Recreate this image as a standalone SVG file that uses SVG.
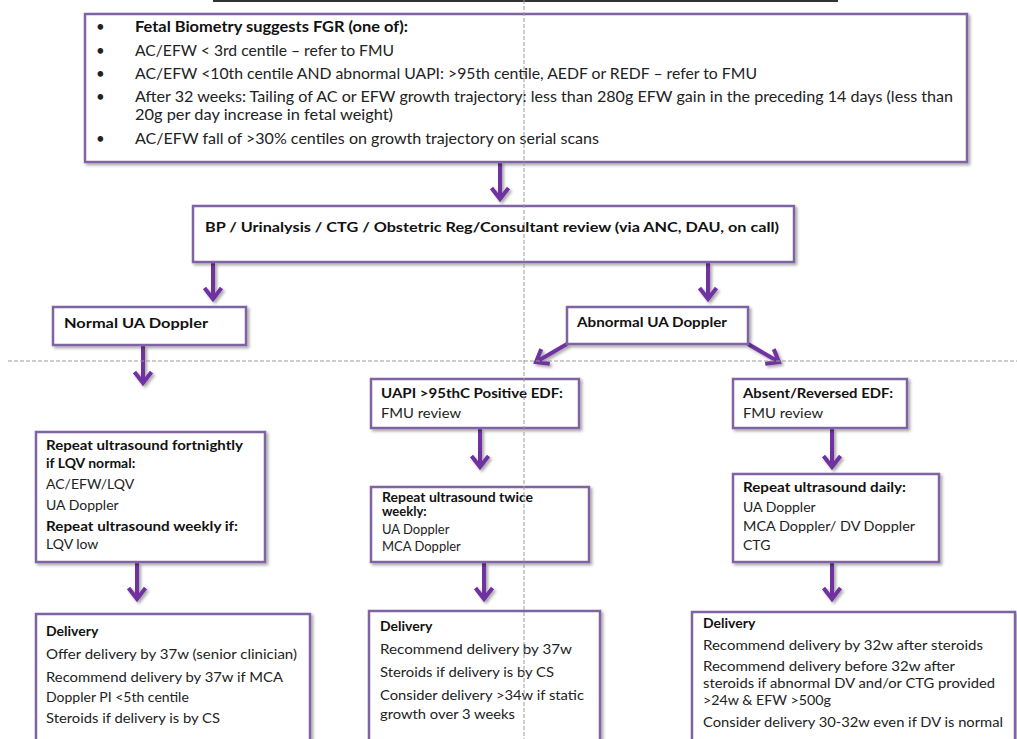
<svg xmlns="http://www.w3.org/2000/svg" width="1017" height="739" viewBox="0 0 1017 739">
<style>
.box{fill:#fff;stroke:#8064A2;stroke-width:2.5;filter:url(#sh)}
.t{font-family:Lato,"Liberation Sans",sans-serif;font-size:14px;fill:#222}
.b{font-weight:bold;fill:#111}
.s{font-size:13px}
.big{font-size:15px}
.arr{stroke:#7030A0;stroke-width:4;fill:none;marker-end:url(#ah)}
.dash{stroke:#9a9a9a;stroke-width:1;stroke-dasharray:4 2;fill:none}
</style>
<defs>
<filter id="sh" filterUnits="userSpaceOnUse" x="0" y="0" width="1017" height="739">
<feDropShadow dx="2" dy="2" stdDeviation="1.5" flood-color="#000" flood-opacity="0.35"/>
</filter>
<marker id="ah" markerUnits="userSpaceOnUse" markerWidth="22" markerHeight="22" viewBox="0 0 22 22" refX="18" refY="11" orient="auto">
<path d="M7,2.5 L18,11 L7,19.5" stroke="#7030A0" stroke-width="4" fill="none"/>
</marker>
</defs>
<rect width="1017" height="739" fill="#fff"/>
<rect x="213" y="0" width="625" height="2" fill="#333"/>
<g id="connectors" filter="url(#sh)">
<line class="arr" x1="500" y1="162" x2="500" y2="199"/>
<line class="arr" x1="213" y1="263" x2="213" y2="299"/>
<line class="arr" x1="708" y1="263" x2="708" y2="299"/>
<line class="arr" x1="143" y1="346" x2="143" y2="383"/>
<line class="arr" x1="567" y1="344" x2="536" y2="362"/>
<line class="arr" x1="748" y1="344" x2="779" y2="362"/>
<line class="arr" x1="480" y1="429" x2="480" y2="467"/>
<line class="arr" x1="832" y1="429" x2="832" y2="467"/>
<line class="arr" x1="137" y1="563" x2="137" y2="599"/>
<line class="arr" x1="484" y1="563" x2="484" y2="599"/>
<line class="arr" x1="832" y1="563" x2="832" y2="599"/>
</g>
<g id="fgr">
<rect class="box" x="85" y="14" width="882" height="148"/>
<g class="t big">
<text x="96" y="32">•</text><text x="96" y="56">•</text><text x="96" y="79">•</text><text x="96" y="102">•</text><text x="96" y="144">•</text>
<text class="b" x="135" y="32" textLength="273" lengthAdjust="spacingAndGlyphs">Fetal Biometry suggests FGR (one of):</text>
<text x="135" y="56" textLength="259" lengthAdjust="spacingAndGlyphs">AC/EFW &lt; 3rd centile – refer to FMU</text>
<text x="135" y="79" textLength="622" lengthAdjust="spacingAndGlyphs">AC/EFW &lt;10th centile AND abnormal UAPI: &gt;95th centile, AEDF or REDF – refer to FMU</text>
<text x="135" y="102" textLength="818" lengthAdjust="spacingAndGlyphs">After 32 weeks: Tailing of AC or EFW growth trajectory: less than 280g EFW gain in the preceding 14 days (less than</text>
<text x="135" y="120" textLength="258" lengthAdjust="spacingAndGlyphs">20g per day increase in fetal weight)</text>
<text x="135" y="144" textLength="464" lengthAdjust="spacingAndGlyphs">AC/EFW fall of &gt;30% centiles on growth trajectory on serial scans</text>
</g>
</g>
<g id="review">
<rect class="box" x="193" y="206" width="601" height="56"/>
<text class="t b" x="205" y="232" textLength="574" lengthAdjust="spacingAndGlyphs">BP / Urinalysis / CTG / Obstetric Reg/Consultant review (via ANC, DAU, on call)</text>
</g>
<g id="normal">
<rect class="box" x="53" y="307" width="193" height="38"/>
<text class="t b" x="64" y="328" textLength="144" lengthAdjust="spacingAndGlyphs">Normal UA Doppler</text>
</g>
<g id="abnormal">
<rect class="box" x="567" y="307" width="181" height="37"/>
<text class="t b" x="577" y="327" textLength="150" lengthAdjust="spacingAndGlyphs">Abnormal  UA Doppler</text>
</g>
<g id="uapi">
<rect class="box" x="371" y="379" width="208" height="49"/>
<text class="t b" x="381" y="398" textLength="182" lengthAdjust="spacingAndGlyphs">UAPI &gt;95thC  Positive EDF:</text>
<text class="t" x="381" y="418" textLength="80" lengthAdjust="spacingAndGlyphs">FMU review</text>
</g>
<g id="absent">
<rect class="box" x="733" y="379" width="174" height="49"/>
<text class="t b" x="743" y="398" textLength="150" lengthAdjust="spacingAndGlyphs">Absent/Reversed EDF:</text>
<text class="t" x="743" y="418" textLength="80" lengthAdjust="spacingAndGlyphs">FMU review</text>
</g>
<g id="fortnightly">
<rect class="box" x="36" y="432" width="229" height="130"/>
<text class="t b" x="46" y="450" textLength="197" lengthAdjust="spacingAndGlyphs">Repeat ultrasound fortnightly</text>
<text class="t b" x="46" y="468">if LQV normal:</text>
<text class="t" x="46" y="489">AC/EFW/LQV</text>
<text class="t" x="46" y="510">UA Doppler</text>
<text class="t b" x="46" y="531" textLength="192" lengthAdjust="spacingAndGlyphs">Repeat ultrasound weekly if:</text>
<text class="t" x="46" y="549">LQV low</text>
</g>
<g id="twice">
<rect class="box" x="371" y="487" width="218" height="75"/>
<text class="t s b" x="382" y="502" textLength="151" lengthAdjust="spacingAndGlyphs">Repeat ultrasound twice</text>
<text class="t s b" x="382" y="516">weekly:</text>
<text class="t s" x="382" y="534">UA Doppler</text>
<text class="t s" x="382" y="551">MCA Doppler</text>
</g>
<g id="daily">
<rect class="box" x="733" y="474" width="206" height="88"/>
<text class="t b" x="743" y="492" textLength="163" lengthAdjust="spacingAndGlyphs">Repeat ultrasound daily:</text>
<text class="t" x="743" y="512">UA Doppler</text>
<text class="t" x="743" y="531" textLength="172" lengthAdjust="spacingAndGlyphs">MCA Doppler/ DV Doppler</text>
<text class="t" x="743" y="550">CTG</text>
</g>
<g id="delivery-normal">
<rect class="box" x="36" y="614" width="274" height="140"/>
<text class="t b" x="46" y="636">Delivery</text>
<text class="t" x="46" y="659" textLength="251" lengthAdjust="spacingAndGlyphs">Offer delivery by 37w (senior clinician)</text>
<text class="t" x="46" y="682" textLength="237" lengthAdjust="spacingAndGlyphs">Recommend delivery by 37w if MCA</text>
<text class="t" x="46" y="702">Doppler PI &lt;5th centile</text>
<text class="t" x="46" y="723" textLength="174" lengthAdjust="spacingAndGlyphs">Steroids if delivery is by CS</text>
</g>
<g id="delivery-uapi">
<rect class="box" x="369" y="611" width="231" height="140"/>
<text class="t b" x="380" y="631">Delivery</text>
<text class="t" x="380" y="654" textLength="192" lengthAdjust="spacingAndGlyphs">Recommend delivery by  37w</text>
<text class="t" x="380" y="677" textLength="174" lengthAdjust="spacingAndGlyphs">Steroids if delivery is by CS</text>
<text class="t" x="380" y="700" textLength="204" lengthAdjust="spacingAndGlyphs">Consider delivery &gt;34w if static</text>
<text class="t" x="380" y="719" textLength="135" lengthAdjust="spacingAndGlyphs">growth over 3 weeks</text>
</g>
<g id="delivery-absent">
<rect class="box" x="692" y="612" width="323" height="140"/>
<text class="t b" x="703" y="628">Delivery</text>
<text class="t" x="703" y="650" textLength="280" lengthAdjust="spacingAndGlyphs">Recommend delivery by 32w after steroids</text>
<text class="t" x="703" y="671" textLength="252" lengthAdjust="spacingAndGlyphs">Recommend delivery before 32w after</text>
<text class="t" x="703" y="688" textLength="292" lengthAdjust="spacingAndGlyphs">steroids if abnormal DV and/or CTG provided</text>
<text class="t" x="703" y="705" textLength="128" lengthAdjust="spacingAndGlyphs">&gt;24w &amp; EFW &gt;500g</text>
<text class="t" x="703" y="727" textLength="300" lengthAdjust="spacingAndGlyphs">Consider delivery 30-32w even if DV is normal</text>
</g>
<g id="guides">
<line class="dash" x1="524" y1="0" x2="524" y2="739"/>
<line class="dash" x1="8" y1="361" x2="1017" y2="361"/>
</g>
</svg>
